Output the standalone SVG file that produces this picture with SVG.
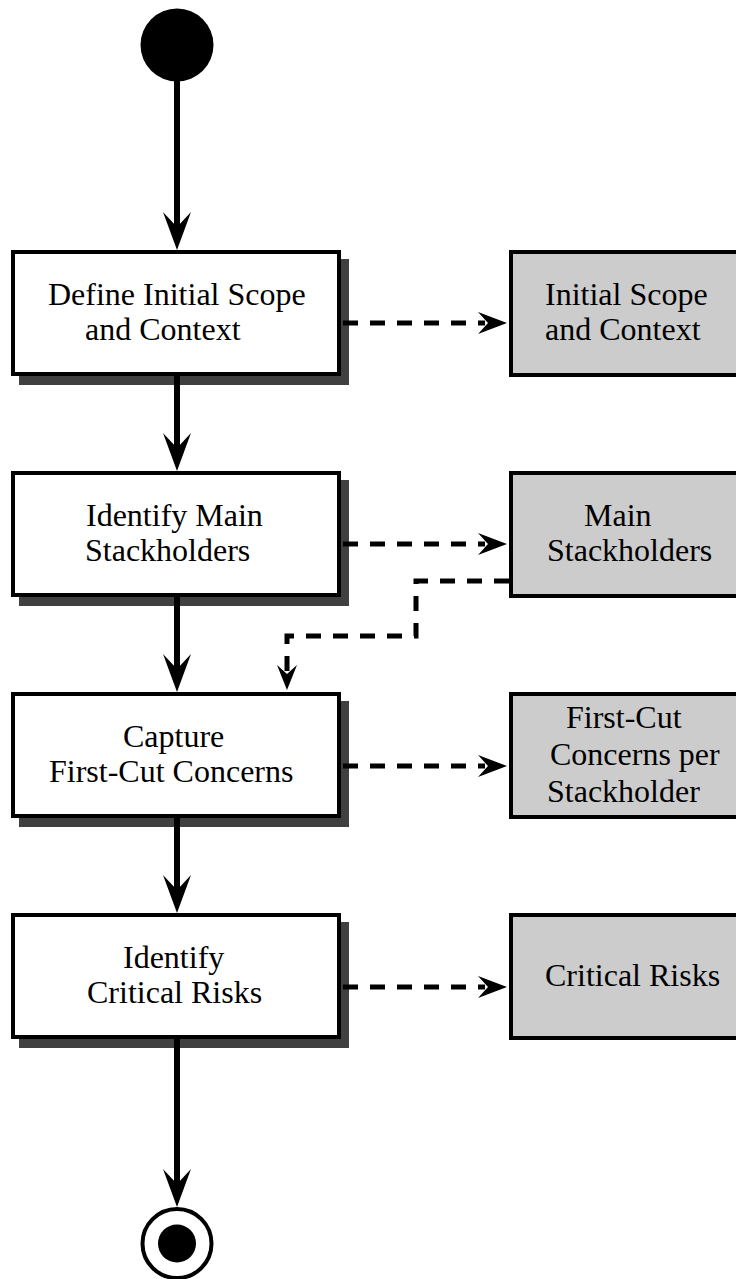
<svg xmlns="http://www.w3.org/2000/svg" width="736" height="1279" viewBox="0 0 736 1279">
<style>
.shadow{fill:#404040}
.act{fill:#ffffff;stroke:#000;stroke-width:4}
.obj{fill:#cccccc;stroke:#000;stroke-width:4}
.t{font-family:"Liberation Serif","Times New Roman",serif;font-size:32px;fill:#000}
.flow{stroke:#000;stroke-width:6;fill:none}
.dflow{stroke:#000;stroke-width:5;fill:none;stroke-dasharray:15 12}
.head{fill:#000}
</style>
<rect width="736" height="1279" fill="#ffffff"/>
<g id="start"><circle cx="177" cy="45" r="36.5" fill="#000"/></g>
<g id="a1">
<rect class="shadow" x="19" y="259" width="330" height="126"/>
<rect class="act" x="13" y="252" width="326" height="122"/>
<text class="t" x="48" y="305">Define Initial Scope</text>
<text class="t" x="85" y="340">and Context</text>
</g>
<g id="a2">
<rect class="shadow" x="19" y="480" width="330" height="126"/>
<rect class="act" x="13" y="473" width="326" height="122"/>
<text class="t" x="86" y="526">Identify Main</text>
<text class="t" x="85" y="561">Stackholders</text>
</g>
<g id="a3">
<rect class="shadow" x="19" y="701" width="330" height="126"/>
<rect class="act" x="13" y="694" width="326" height="122"/>
<text class="t" x="123" y="747">Capture</text>
<text class="t" x="49" y="782">First-Cut Concerns</text>
</g>
<g id="a4">
<rect class="shadow" x="19" y="922" width="330" height="126"/>
<rect class="act" x="13" y="915" width="326" height="122"/>
<text class="t" x="123" y="968">Identify</text>
<text class="t" x="87" y="1003">Critical Risks</text>
</g>
<g id="o1">
<rect class="obj" x="511" y="252" width="240" height="123"/>
<text class="t" x="545" y="305">Initial Scope</text>
<text class="t" x="545" y="340">and Context</text>
</g>
<g id="o2">
<rect class="obj" x="511" y="473" width="240" height="123"/>
<text class="t" x="584" y="526">Main</text>
<text class="t" x="547" y="561">Stackholders</text>
</g>
<g id="o3">
<rect class="obj" x="511" y="694" width="240" height="123"/>
<text class="t" x="566" y="728">First-Cut</text>
<text class="t" x="550" y="765">Concerns per</text>
<text class="t" x="547" y="802">Stackholder</text>
</g>
<g id="o4">
<rect class="obj" x="511" y="915" width="240" height="123"/>
<text class="t" x="545" y="986">Critical Risks</text>
</g>
<g id="end">
<circle cx="177" cy="1243.5" r="34.5" fill="#fff" stroke="#000" stroke-width="4"/>
<circle cx="177" cy="1243.5" r="19" fill="#000"/>
</g>
<g id="connectors">
<line class="flow" x1="177" y1="80" x2="177" y2="228"/>
<path class="head" d="M177,250 L163,212 L177,227 L191,212 Z"/>
<line class="flow" x1="177" y1="376" x2="177" y2="449"/>
<path class="head" d="M177,471 L163,433 L177,448 L191,433 Z"/>
<line class="flow" x1="177" y1="597" x2="177" y2="670"/>
<path class="head" d="M177,692 L163,654 L177,669 L191,654 Z"/>
<line class="flow" x1="177" y1="818" x2="177" y2="891"/>
<path class="head" d="M177,913 L163,875 L177,890 L191,875 Z"/>
<line class="flow" x1="177" y1="1039" x2="177" y2="1185"/>
<path class="head" d="M177,1207 L163,1169 L177,1184 L191,1169 Z"/>
<line class="dflow" x1="343" y1="323" x2="485" y2="323"/>
<path class="head" d="M507,323 L478,312 L488,323 L478,334 Z"/>
<line class="dflow" x1="343" y1="544" x2="485" y2="544"/>
<path class="head" d="M507,544 L478,533 L488,544 L478,555 Z"/>
<line class="dflow" x1="343" y1="766" x2="485" y2="766"/>
<path class="head" d="M507,766 L478,755 L488,766 L478,777 Z"/>
<line class="dflow" x1="343" y1="987" x2="485" y2="987"/>
<path class="head" d="M507,987 L478,976 L488,987 L478,998 Z"/>
<path class="dflow" d="M509,581 H416 V636 H287 V672"/>
<path class="head" d="M287,690 L277,665 L287,674 L297,665 Z"/>
</g>
</svg>
